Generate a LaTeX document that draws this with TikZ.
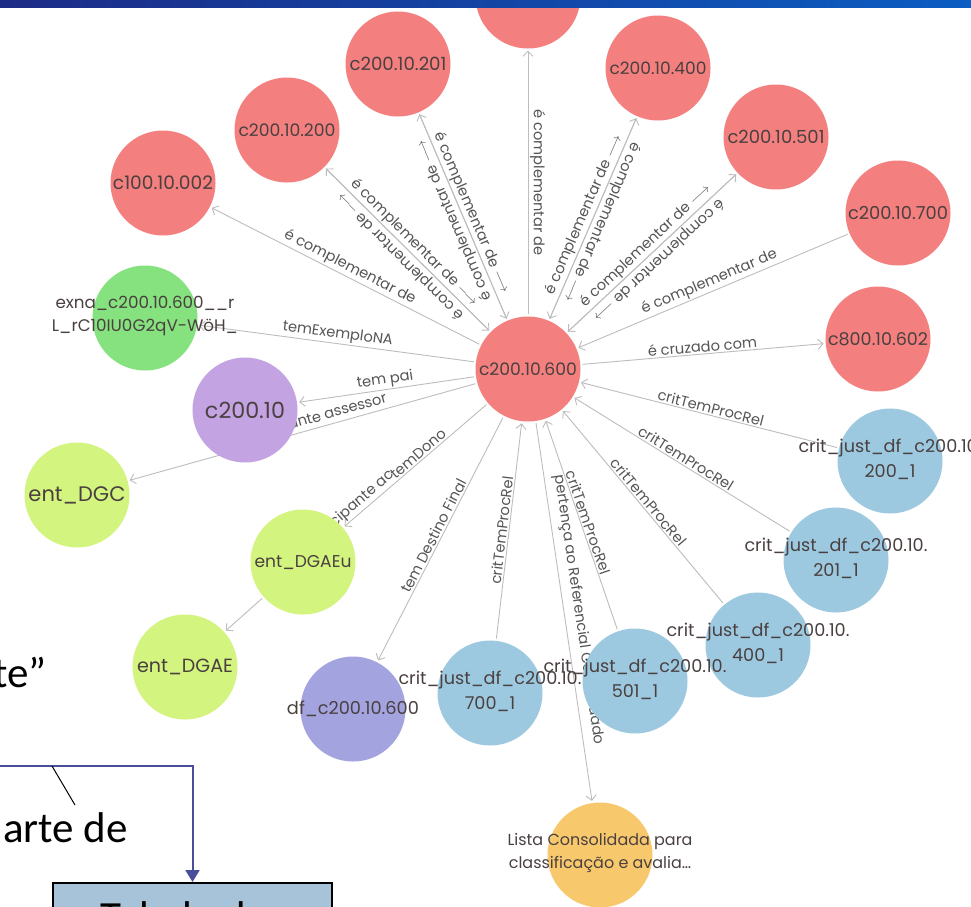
\documentclass[tikz,border=0pt]{standalone}
\usepackage{fontspec}
\setmainfont{Poppins}
\newfontfamily\slidefont{Carlito}
\usetikzlibrary{arrows.meta}
\pgfdeclarelayer{bglayer}
\pgfdeclarelayer{edgelayer}
\pgfsetlayers{bglayer,edgelayer,main}
\definecolor{barL}{HTML}{1C2B86}
\definecolor{barR}{HTML}{0B5DC2}
\definecolor{nred}{HTML}{F47F7F}
\definecolor{ngreen}{HTML}{86E27F}
\definecolor{npurple}{HTML}{C4A3E3}
\definecolor{nlime}{HTML}{D3F47E}
\definecolor{nblue}{HTML}{9DC9E0}
\definecolor{ndf}{HTML}{A3A3E0}
\definecolor{norange}{HTML}{F8C86C}
\definecolor{edgegray}{HTML}{BDBDBD}
\definecolor{lblgray}{HTML}{555555}
\definecolor{ntextc}{HTML}{4A4040}
\definecolor{slideblue}{HTML}{4A4E98}
\definecolor{boxfill}{HTML}{A6C3D9}
\newcommand\rb[2]{\resizebox{#1pt}{!}{#2}}
\newcommand\twol[2]{\begin{tabular}{@{}c@{}}#1\\[2.2pt]#2\end{tabular}}
\begin{document}
\begin{tikzpicture}[x=1pt,y=-1pt,
  gnode/.style={circle,minimum size=105pt,inner sep=0pt,draw=none},
  ntext/.style={text=ntextc,inner sep=0pt,align=center},
  edge/.style={draw=edgegray,line width=0.9pt,shorten >=2pt,shorten <=2pt,
    >={Straight Barb[length=5pt,width=10pt,line width=0.9pt]}},
  elbl/.style={text=lblgray,font=\fontsize{14.6}{14.6}\selectfont,inner sep=1.5pt,sloped,allow upside down},
  slidetxt/.style={font=\slidefont\fontsize{43}{43}\selectfont,text=black,inner sep=0pt}]
\useasboundingbox (0,0) rectangle (971,906);
\begin{pgfonlayer}{bglayer}
\fill[white] (0,0) rectangle (971,906);
\end{pgfonlayer}
% graph nodes
\node[gnode,fill=nred] (ntop) at (528,-4) {};
\node[gnode,fill=nred] (n201) at (398,64) {};
\node[gnode,fill=nred] (n400) at (658,68) {};
\node[gnode,fill=nred] (n200) at (287,130) {};
\node[gnode,fill=nred] (n501) at (776,137) {};
\node[gnode,fill=nred] (n100) at (163,183) {};
\node[gnode,fill=nred] (n700) at (898,213) {};
\node[gnode,fill=ngreen] (exna) at (145,318) {};
\node[gnode,fill=nred] (n602) at (878,339) {};
\node[gnode,fill=nred] (n600) at (528,369) {};
\node[gnode,fill=npurple] (c20010) at (245,410) {};
\node[gnode,fill=nblue] (k200) at (890,461) {};
\node[gnode,fill=nlime] (dgc) at (77,495) {};
\node[gnode,fill=nblue] (k201) at (836,560) {};
\node[gnode,fill=nlime] (dgaeu) at (303,562) {};
\node[gnode,fill=nblue] (k400) at (758,645) {};
\node[gnode,fill=nlime] (dgae) at (185,667) {};
\node[gnode,fill=ndf] (df) at (353,709) {};
\node[gnode,fill=nblue] (k700) at (490,693) {};
\node[gnode,fill=nblue] (k501) at (635,681) {};
\node[gnode,fill=norange] (lista) at (600,855) {};
% node texts
\node[ntext] (t201) at (n201) {\rb{97}{c200.10.201}};
\node[ntext] (t400) at (n400) {\rb{97}{c200.10.400}};
\node[ntext] (t200) at (n200) {\rb{97}{c200.10.200}};
\node[ntext] (t501) at (n501) {\rb{97}{c200.10.501}};
\node[ntext] (t100) at (n100) {\rb{100}{c100.10.002}};
\node[ntext] (t700) at (n700) {\rb{100}{c200.10.700}};
\node[ntext] (t602) at (n602) {\rb{100}{c800.10.602}};
\node[ntext] (t600) at (n600) {\rb{98}{c200.10.600}};
\node[ntext] (texna) at ([yshift=2pt]exna.center) {\rb{186}{\twol{exna\_c200.10.600\_\_r}{L\_rC10IU0G2qV-WöH\_}}};
\node[ntext] (tc20010) at (c20010) {\rb{80}{c200.10}};
\node[ntext] (tdgc) at (dgc) {\rb{97}{ent\_DGC}};
\node[ntext] (tdgaeu) at (dgaeu) {\rb{97}{ent\_DGAEu}};
\node[ntext] (tdgae) at (dgae) {\rb{96}{ent\_DGAE}};
\node[ntext] (tdf) at (df) {\rb{132}{df\_c200.10.600}};
\node[ntext] (tk200) at (k200) {\rb{183}{\twol{crit\_just\_df\_c200.10.}{200\_1}}};
\node[ntext] (tk201) at (k201) {\rb{183}{\twol{crit\_just\_df\_c200.10.}{201\_1}}};
\node[ntext] (tk400) at (k400) {\rb{183}{\twol{crit\_just\_df\_c200.10.}{400\_1}}};
\node[ntext] (tk700) at (k700) {\rb{183}{\twol{crit\_just\_df\_c200.10.}{700\_1}}};
\node[ntext] (tk501) at (k501) {\rb{183}{\twol{crit\_just\_df\_c200.10.}{501\_1}}};
\node[ntext] (tlista) at ([yshift=2pt]lista.center) {\rb{185}{\twol{Lista Consolidada para}{classificação e avalia…}}};
% edges
\begin{pgfonlayer}{edgelayer}
\draw[edge,<-] (ntop) -- node[elbl,above]{é complementar de} (n600);
\draw[edge,->] (n201) -- node[elbl,above]{é complementar de $\longrightarrow$} (n600);
\draw[edge,->] (n600) -- node[elbl,above]{é complementar de $\longrightarrow$} (n201);
\draw[edge,->] (n200) -- node[elbl,above]{é complementar de $\longrightarrow$} (n600);
\draw[edge,->] (n600) -- node[elbl,above]{é complementar de $\longrightarrow$} (n200);
\draw[edge,->] (n600) -- node[elbl,above]{é complementar de $\longrightarrow$} (n400);
\draw[edge,->] (n400) -- node[elbl,above]{é complementar de $\longrightarrow$} (n600);
\draw[edge,->] (n600) -- node[elbl,above]{é complementar de $\longrightarrow$} (n501);
\draw[edge,->] (n501) -- node[elbl,above]{é complementar de $\longrightarrow$} (n600);
\draw[edge,<-] (n100) -- node[elbl,above]{é complementar de} (n600);
\draw[edge,<-] (n600) -- node[elbl,above]{é complementar de} (n700);
\draw[edge,->] (n600) -- node[elbl,above]{é cruzado com} (n602);
\draw[edge,<-] (exna) -- node[elbl,above]{temExemploNA} (n600);
\draw[edge,<-] (c20010) -- node[elbl,above]{tem pai} (n600);
\draw[edge,<-] (dgc) -- node[elbl,above,pos=0.53]{participante assessor} (n600);
\draw[edge,<-] (dgaeu) -- node[elbl,above,pos=0.55]{temDono} node[elbl,above,pos=0.39,anchor=south east]{participante ac} (n600);
\draw[edge,<-] (df) -- node[elbl,above]{tem Destino Final} (n600);
\draw[edge,->] (k700) -- node[elbl,above]{critTemProcRel} (n600);
\draw[edge,->] (n600) -- node[elbl,above=5pt]{pertença ao Referencial Consolidado} (lista);
\draw[edge,<-] (n600) -- node[elbl,above]{critTemProcRel} (k501);
\draw[edge,<-] (n600) -- node[elbl,above]{critTemProcRel} (k400);
\draw[edge,<-] (n600) -- node[elbl,above]{critTemProcRel} (k201);
\draw[edge,<-] (n600) -- node[elbl,above]{critTemProcRel} (k200);
\draw[edge,->] (dgaeu) -- (dgae);
\end{pgfonlayer}
% slide fragment
\node[slidetxt,anchor=base east] (tq) at (47,687) {te”};
\node[slidetxt,anchor=base east] (ad) at (128,842) {arte de};
\node[draw=black,line width=2pt,fill=boxfill,minimum width=279pt,minimum height=60pt,inner sep=0pt] (tab) at (192.5,913) {};
\node[slidetxt,anchor=base] (tabtxt) at (184,931) {Tabela de};
\coordinate (s0) at (-5,766);
\coordinate (c1) at (52,766);
\coordinate (c2) at (75,805);
\draw[slideblue,line width=2pt,-{Triangle[length=12pt,width=14pt]}] (s0) -| (tab.north);
\draw[black,line width=1pt] (c1) -- (c2);
% top bar
\shade[left color=barL,right color=barR] (0,0) rectangle (971,7);
\end{tikzpicture}
\end{document}
